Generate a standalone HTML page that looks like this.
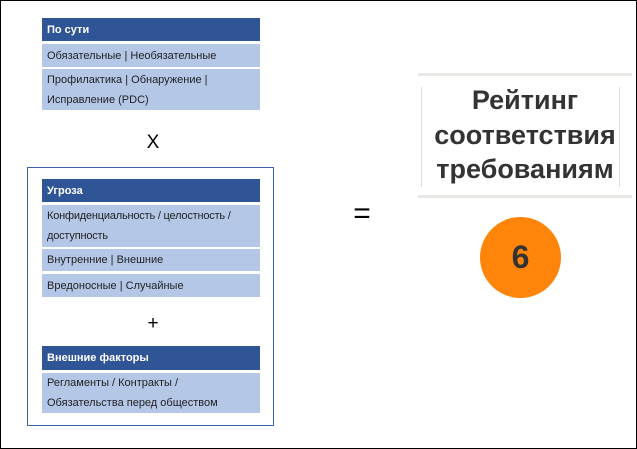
<!DOCTYPE html>
<html><head><meta charset="utf-8"><style>
body{margin:0;width:637px;height:449px;overflow:hidden;background:#fff;font-family:"Liberation Sans",sans-serif;}
.frame{position:absolute;left:0;top:0;width:635px;height:447px;border:1px solid #000;}
.a{position:absolute;box-sizing:border-box;}
.h{background:#2F5597;color:#fff;font-weight:bold;font-size:11px;padding-left:5px;display:flex;align-items:center;}
.r{background:#B4C7E7;color:#222;font-size:11px;padding:0 5px;line-height:20px;display:flex;align-items:center;}
.t{position:absolute;left:418px;width:214px;text-align:center;font-weight:bold;font-size:27px;color:#333;}
</style></head><body>
<div class="frame"></div>
<div class="a h" style="left:42px;top:18px;width:218px;height:23px">По сути</div>
<div class="a r" style="left:42px;top:44px;width:218px;height:23px">Обязательные | Необязательные</div>
<div class="a r" style="left:42px;top:69px;width:218px;height:41px">Профилактика | Обнаружение | Исправление (PDC)</div>
<div class="a" style="left:140px;top:132px;width:26px;text-align:center;font-size:19px">X</div>
<div class="a" style="left:27px;top:167px;width:247px;height:259px;border:1px solid #3B64A8"></div>
<div class="a h" style="left:42px;top:179px;width:218px;height:23px">Угроза</div>
<div class="a r" style="left:42px;top:205px;width:218px;height:42px;letter-spacing:-0.2px">Конфиденциальность / целостность / доступность</div>
<div class="a r" style="left:42px;top:249px;width:218px;height:22px">Внутренние | Внешние</div>
<div class="a r" style="left:42px;top:274px;width:218px;height:23px">Вредоносные | Случайные</div>
<div class="a" style="left:140px;top:313px;width:26px;text-align:center;font-size:19px">+</div>
<div class="a h" style="left:42px;top:346px;width:218px;height:24px">Внешние факторы</div>
<div class="a r" style="left:42px;top:373px;width:218px;height:40px">Регламенты / Контракты / Обязательства перед обществом</div>
<div class="a" style="left:348px;top:197px;width:28px;text-align:center;font-size:30px">=</div>
<div class="a" style="left:418px;top:73px;width:214px;height:3px;background:#e8e8e4"></div>
<div class="a" style="left:418px;top:195px;width:214px;height:3px;background:#e8e8e4"></div>
<div class="a" style="left:421px;top:87px;width:1px;height:100px;background:#ddd"></div>
<div class="a" style="left:619px;top:87px;width:1px;height:100px;background:#ddd"></div>
<div class="t" style="top:85px">Рейтинг</div>
<div class="t" style="top:120px">соответствия</div>
<div class="t" style="top:154px">требованиям</div>
<div class="a" style="left:480px;top:217px;width:81px;height:81px;border-radius:50%;background:#FF850A;color:#333;font-weight:bold;font-size:32px;display:flex;align-items:center;justify-content:center">6</div>
</body></html>
